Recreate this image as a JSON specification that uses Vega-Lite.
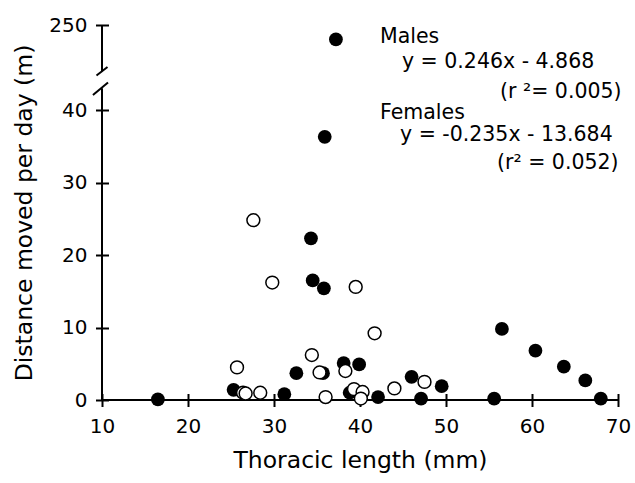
{
  "$schema": "https://vega.github.io/schema/vega-lite/v6.json",
  "width": 516,
  "height": 375,
  "autosize": "none",
  "padding": {"left": 102, "top": 25, "right": 17, "bottom": 83},
  "config": {"view": {"stroke": null}, "font": "DejaVu Sans"},
  "datasets": {
    "males": [
      {"x": 16.5, "y": 0.1}, {"x": 25.3, "y": 1.4}, {"x": 31.2, "y": 0.8}, {"x": 32.6, "y": 3.7},
      {"x": 34.3, "y": 22.3}, {"x": 34.5, "y": 16.5}, {"x": 35.8, "y": 15.4}, {"x": 35.9, "y": 36.3},
      {"x": 37.2, "y": 248}, {"x": 35.7, "y": 3.7}, {"x": 38.1, "y": 5.1}, {"x": 39.9, "y": 4.9},
      {"x": 38.8, "y": 1.0}, {"x": 42.1, "y": 0.4}, {"x": 46.0, "y": 3.2}, {"x": 47.1, "y": 0.2},
      {"x": 49.5, "y": 1.9}, {"x": 55.6, "y": 0.2}, {"x": 56.5, "y": 9.8}, {"x": 60.4, "y": 6.8},
      {"x": 63.7, "y": 4.6}, {"x": 66.2, "y": 2.7}, {"x": 68.0, "y": 0.2}
    ],
    "females": [
      {"x": 27.6, "y": 24.8}, {"x": 29.8, "y": 16.2}, {"x": 39.5, "y": 15.6}, {"x": 25.7, "y": 4.5},
      {"x": 34.4, "y": 6.2}, {"x": 38.3, "y": 4.0}, {"x": 35.3, "y": 3.8}, {"x": 41.7, "y": 9.2},
      {"x": 26.4, "y": 1.0}, {"x": 26.7, "y": 0.9}, {"x": 28.4, "y": 1.0}, {"x": 36.0, "y": 0.4},
      {"x": 39.3, "y": 1.5}, {"x": 40.3, "y": 1.1}, {"x": 40.1, "y": 0.2}, {"x": 44.0, "y": 1.6},
      {"x": 47.5, "y": 2.5}
    ],
    "axislines": [
      {"x": 10, "x2": 70, "y": 0, "y2": 0},
      {"x": 10, "x2": 10, "y": 0, "y2": 43},
      {"x": 10, "x2": 10, "y": 243.6, "y2": 250}
    ],
    "breaks": [
      {"seg": "a", "x": 9.36, "y": 200.3}, {"seg": "a", "x": 10.64, "y": 244.19},
      {"seg": "b", "x": 8.95, "y": 42.07}, {"seg": "b", "x": 10.70, "y": 113.9}
    ],
    "notes": [
      {"label": "Males", "x": 42.33, "y": 248.28},
      {"label": "y = 0.246x - 4.868", "x": 44.88, "y": 244.9},
      {"label": "(r ²= 0.005)", "x": 56.28, "y": 42.55},
      {"label": "Females", "x": 42.33, "y": 39.52},
      {"label": "y = -0.235x - 13.684", "x": 44.65, "y": 36.55},
      {"label": "(r² = 0.052)", "x": 55.93, "y": 32.69}
    ]
  },
  "encoding": {
    "x": {
      "field": "x", "type": "quantitative",
      "scale": {"domain": [10, 70], "nice": false, "zero": false},
      "axis": {
        "title": "Thoracic length (mm)", "values": [10, 20, 30, 40, 50, 60, 70],
        "domain": false, "grid": false, "offset": -6.5, "tickSize": 13, "tickWidth": 2,
        "tickColor": "black", "labelFontSize": 20, "labelColor": "black", "labelPadding": 10,
        "labelFont": "DejaVu Sans", "labelFlush": false, "labelOverlap": false,
        "titleFont": "DejaVu Sans", "titleFontSize": 23.5, "titleFontWeight": "normal",
        "titleColor": "black", "titlePadding": 12
      }
    },
    "y": {
      "field": "y", "type": "quantitative",
      "scale": {"domain": [0, 43, 243.5, 250], "range": [375, 63.25, 47, 0], "nice": false, "zero": false},
      "axis": {
        "title": "Distance moved per day (m)", "values": [0, 10, 20, 30, 40, 250],
        "domain": false, "grid": false, "offset": -6.5, "tickSize": 13, "tickWidth": 2,
        "tickColor": "black", "labelFontSize": 20, "labelColor": "black", "labelPadding": 8.5,
        "labelFont": "DejaVu Sans", "labelFlush": false, "labelOverlap": false,
        "titleFont": "DejaVu Sans", "titleFontSize": 23.5, "titleFontWeight": "normal",
        "titleColor": "black", "titlePadding": 12
      }
    }
  },
  "layer": [
    {
      "data": {"name": "axislines"},
      "mark": {"type": "rule", "color": "black", "strokeWidth": 2},
      "encoding": {"x2": {"field": "x2"}, "y2": {"field": "y2"}}
    },
    {
      "data": {"name": "breaks"},
      "mark": {"type": "line", "color": "black", "strokeWidth": 2},
      "encoding": {"detail": {"field": "seg", "type": "nominal"}}
    },
    {
      "data": {"name": "males"},
      "mark": {"type": "point", "shape": "circle", "filled": true, "fill": "black", "opacity": 1, "size": 190}
    },
    {
      "data": {"name": "females"},
      "mark": {"type": "point", "shape": "circle", "filled": false, "fill": "white", "fillOpacity": 1, "stroke": "black", "strokeWidth": 1.5, "opacity": 1, "size": 165}
    },
    {
      "data": {"name": "notes"},
      "mark": {"type": "text", "align": "left", "baseline": "middle", "fontSize": 20.5, "font": "DejaVu Sans", "color": "black"},
      "encoding": {"text": {"field": "label", "type": "nominal"}}
    }
  ]
}
